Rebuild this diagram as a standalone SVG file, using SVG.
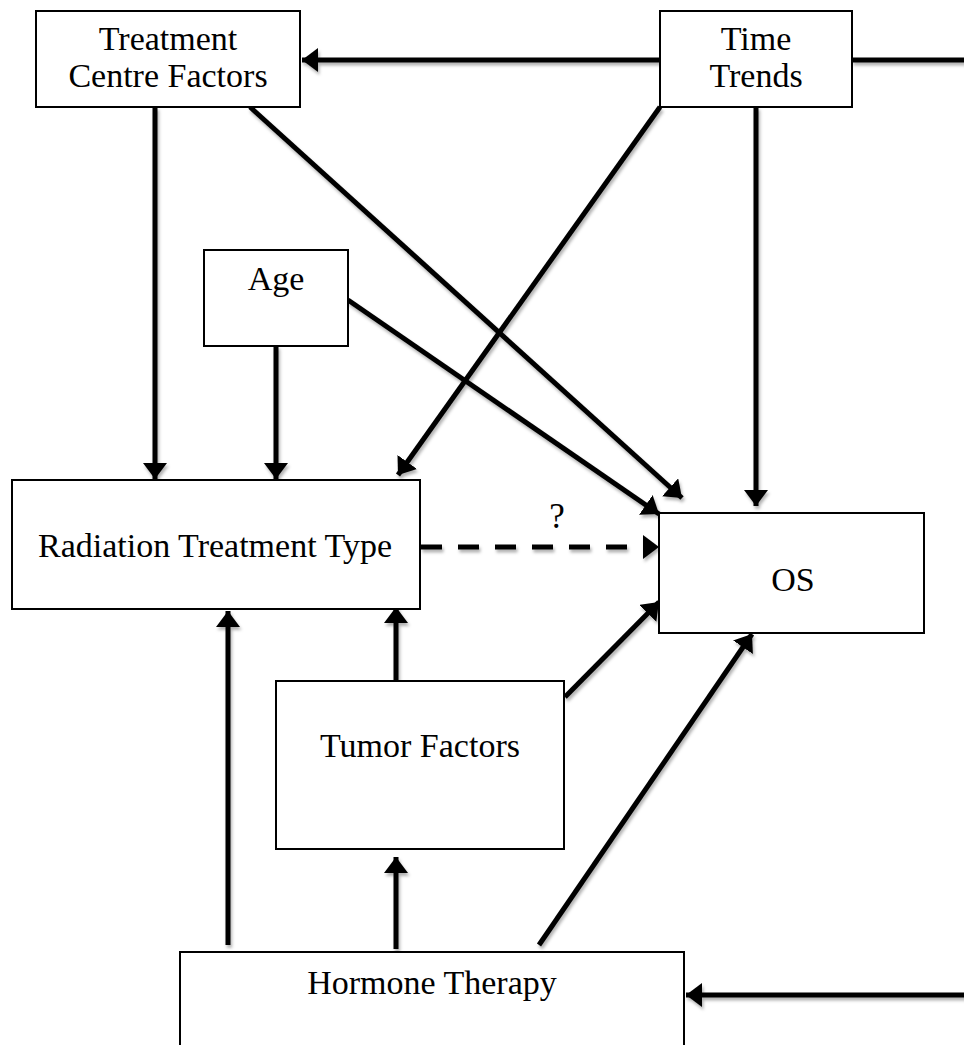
<svg xmlns="http://www.w3.org/2000/svg" width="964" height="1045" viewBox="0 0 964 1045">
<style>
.box{fill:#fff;stroke:#000;stroke-width:2}
.lbl{font-family:"Liberation Serif","Times New Roman",serif;font-size:34px;fill:#000;text-anchor:middle}
.c{fill:none;stroke:#000;stroke-width:5;marker-end:url(#ah)}
.d{fill:none;stroke:#000;stroke-width:5;stroke-dasharray:21 16;}
</style>
<defs>
<marker id="ah" markerUnits="userSpaceOnUse" markerWidth="18" markerHeight="26" refX="16" refY="12" orient="auto">
<path d="M0,0 L16,12 L0,24 z" fill="#000"/>
</marker>
<filter id="sh" x="-10%" y="-10%" width="120%" height="120%">
<feDropShadow dx="1.5" dy="3" stdDeviation="1.5" flood-color="#000" flood-opacity="0.3"/>
</filter>
</defs>
<rect width="964" height="1045" fill="#fff"/>
<g id="connectors" filter="url(#sh)">
<line class="c" x1="660" y1="60" x2="302" y2="60"/>
<path class="c" d="M852,60 H975 V995 H686"/>
<line class="c" x1="155" y1="107" x2="155" y2="479"/>
<line class="c" x1="250" y1="107" x2="682" y2="498"/>
<line class="c" x1="660" y1="107" x2="398" y2="475"/>
<line class="c" x1="756" y1="107" x2="756" y2="506"/>
<line class="c" x1="348" y1="300" x2="659" y2="514"/>
<line class="c" x1="276" y1="346" x2="276" y2="479"/>
<line class="d" x1="421" y1="547" x2="645" y2="547"/>
<path d="M643,535 L659,547 L643,559 z" fill="#000"/>
<line class="c" x1="396" y1="681" x2="396" y2="607"/>
<line class="c" x1="565" y1="697" x2="659" y2="602"/>
<line class="c" x1="228" y1="945" x2="228" y2="611"/>
<line class="c" x1="396" y1="949" x2="396" y2="857"/>
<line class="c" x1="539" y1="945" x2="752" y2="634"/>
</g>
<text class="lbl" x="557" y="528" style="font-size:35px">?</text>
<g id="tcf"><rect class="box" x="36" y="11" width="264" height="96"/><text class="lbl" x="168" y="50">Treatment</text><text class="lbl" x="168" y="87">Centre Factors</text></g>
<g id="time"><rect class="box" x="660" y="11" width="192" height="96"/><text class="lbl" x="756" y="50">Time</text><text class="lbl" x="756" y="87">Trends</text></g>
<g id="age"><rect class="box" x="204" y="250" width="144" height="96"/><text class="lbl" x="276" y="290">Age</text></g>
<g id="radiation"><rect class="box" x="12" y="480" width="408" height="129"/><text class="lbl" x="215" y="557">Radiation Treatment Type</text></g>
<g id="os"><rect class="box" x="659" y="513" width="265" height="120"/><text class="lbl" x="793" y="591">OS</text></g>
<g id="tumor"><rect class="box" x="276" y="681" width="288" height="168"/><text class="lbl" x="420" y="757">Tumor Factors</text></g>
<g id="hormone"><rect class="box" x="180" y="952" width="504" height="120"/><text class="lbl" x="432" y="994">Hormone Therapy</text></g>
</svg>
